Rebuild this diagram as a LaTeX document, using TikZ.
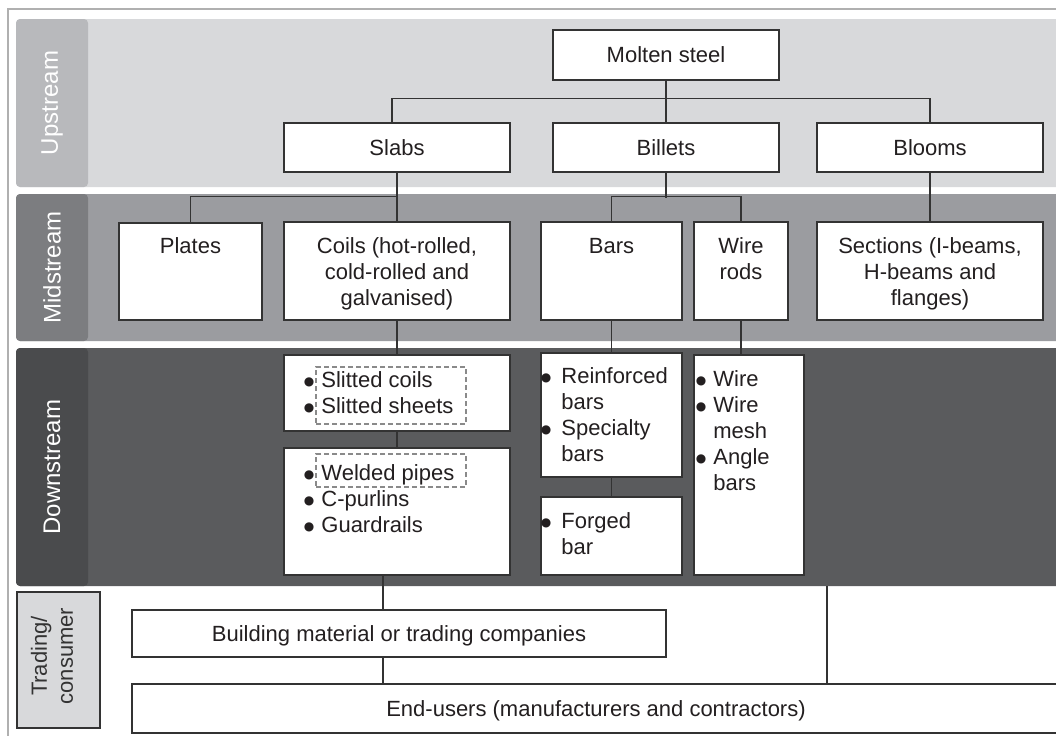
\documentclass[tikz,border=0pt]{standalone}
\usepackage{fontspec}
\setmainfont{Liberation Sans}
\newfontfamily\bulfont{DejaVu Sans}
\usetikzlibrary{fit}
\definecolor{upL}{HTML}{B8B9BC}
\definecolor{upM}{HTML}{D8D9DB}
\definecolor{midL}{HTML}{7C7D80}
\definecolor{midM}{HTML}{9B9CA0}
\definecolor{dnL}{HTML}{4A4B4D}
\definecolor{dnM}{HTML}{5A5B5D}
\definecolor{ln}{HTML}{333333}
\definecolor{frm}{HTML}{B0B0B0}
\definecolor{dsh}{HTML}{8A8A8A}
\definecolor{tx}{HTML}{231F20}
\newcommand{\bul}[1]{\makebox[#1][l]{\hspace{1pt}\raisebox{1.1pt}{\fontsize{6}{6}\bulfont ●}}}
\begin{document}
\begin{tikzpicture}[x=0.5pt,y=-0.5pt,
  box/.style={draw=ln, line width=0.7pt, fill=white, inner sep=0pt},
  ctr/.style={font=\fontsize{11}{13}\selectfont, text height=7.9pt, text depth=0pt, inner sep=0pt, text=tx},
  txt/.style={font=\fontsize{11}{13}\selectfont, inner sep=0pt, anchor=north, align=center, text=tx},
  ltxt/.style={font=\fontsize{11}{13}\selectfont, inner sep=0pt, anchor=north west, align=left, text=tx},
  conn/.style={draw=ln, line width=0.55pt},
  bandtxt/.style={font=\fontsize{12}{14}\selectfont, rotate=90, text=white, inner sep=0pt},
  dashbox/.style={draw=dsh, line width=0.6pt, dash pattern=on 2.5pt off 1.5pt, inner sep=0pt}
]
\useasboundingbox (0,0) rectangle (1056,735);
\begin{scope}
\clip (0,0) rectangle (1056,735);
% outer frame
\draw[frm, line width=0.8pt] (8,9) rectangle (1080,760);
% bands
\fill[upM, rounded corners=2pt] (16,19) rectangle (1080,187);
\fill[upL, rounded corners=2pt] (16,19) rectangle (88,187);
\fill[midM, rounded corners=2pt] (16,194) rectangle (1080,341);
\fill[midL, rounded corners=2pt] (16,194) rectangle (88,341);
\fill[dnM, rounded corners=2pt] (16,348) rectangle (1080,586);
\fill[dnL, rounded corners=2pt] (16,348) rectangle (88,586);
\node[bandtxt] (lup) at (52,103) {Upstream};
\node[bandtxt] (lmid) at (52,267.5) {Midstream};
\node[bandtxt] (ldn) at (52,467) {Downstream};
\node[draw=ln, fill=upM, line width=0.6pt, inner sep=0pt, fit={(17,592)(100,728)}] (ltrade) {};
\node[font=\fontsize{11}{13}\selectfont, rotate=90, align=center, text=ln, inner sep=0pt] (ltradetxt) at (52,656) {Trading/\\consumer};

% upstream boxes
\node[box, fit={(553,30)(779,80)}] (molten) {};
\node[box, fit={(284,123)(510,172)}] (slabs) {};
\node[box, fit={(553,123)(779,172)}] (billets) {};
\node[box, fit={(817,123)(1043,172)}] (blooms) {};
\node[ctr] (tmolten) at (molten.center) {Molten steel};
\node[ctr] (tslabs) at (slabs.center) {Slabs};
\node[ctr] (tbillets) at (billets.center) {Billets};
\node[ctr] (tblooms) at (blooms.center) {Blooms};

% midstream boxes
\node[box, fit={(119,223)(262,320)}] (plates) {};
\node[box, fit={(284,222)(510,320)}] (coils) {};
\node[box, fit={(541,222)(682,320)}] (bars) {};
\node[box, fit={(694,222)(788,320)}] (wirerods) {};
\node[box, fit={(817,222)(1043,320)}] (sections) {};
\node[txt] (tplates) at (190.5,235) {\strut Plates};
\node[txt] (tcoils) at (397,235) {\strut Coils (hot-rolled,\\cold-rolled and\\galvanised)};
\node[txt] (tbars) at (611.5,235) {\strut Bars};
\node[txt] (twirerods) at (741,235) {\strut Wire\\rods};
\node[txt] (tsections) at (930,235) {\strut Sections (I-beams,\\H-beams and\\flanges)};

% downstream boxes
\node[box, fit={(284,355)(510,431)}] (slit) {};
\node[box, fit={(284,448)(510,575)}] (welded) {};
\node[box, fit={(541,353)(682,477)}] (reinf) {};
\node[box, fit={(541,497)(682,575)}] (forged) {};
\node[box, fit={(694,355)(804,575)}] (wire) {};
\node[dashbox, fit={(316,367)(466,424)}] (dash1) {};
\node[dashbox, fit={(316,454)(466,487)}] (dash2) {};
\node[ltxt] (tslit) at (301.5,369) {\strut\bul{9.75pt}Slitted coils\\\bul{9.75pt}Slitted sheets};
\node[ltxt] (twelded) at (301.5,462) {\strut\bul{9.75pt}Welded pipes\\\bul{9.75pt}C-purlins\\\bul{9.75pt}Guardrails};
\node[ltxt] (treinf) at (538.5,365) {\strut\bul{11.25pt}Reinforced\\\hspace*{11.25pt}bars\\\bul{11.25pt}Specialty\\\hspace*{11.25pt}bars};
\node[ltxt] (tforged) at (538.5,510) {\strut\bul{11.25pt}Forged\\\hspace*{11.25pt}bar};
\node[ltxt] (twire) at (693.5,368) {\strut\bul{9.75pt}Wire\\\bul{9.75pt}Wire\\\hspace*{9.75pt}mesh\\\bul{9.75pt}Angle\\\hspace*{9.75pt}bars};

% trading boxes
\node[box, fit={(132,610)(666,657)}] (building) {};
\node[box, fit={(132,684)(1060,733)}] (endusers) {};
\node[ctr] (tbuilding) at (building.center) {Building material or trading companies};
\node[ctr] (tendusers) at (endusers.center) {End-users (manufacturers and contractors)};

% connectors
\draw[conn] (molten.south) -- (billets.north);
\draw[conn] ([xshift=-2.5pt]slabs.north) -- ++(0,-24) -| (blooms.north);
\draw[conn] (slabs.south) -- (coils.north);
\draw[conn] (plates.north) -- ++(0,-26) -| (slabs.south);
\draw[conn] (billets.south) -- ++(0,25);
\draw[conn] (bars.north) -- ++(0,-25) -| (wirerods.north);
\draw[conn] (blooms.south) -- (sections.north);
\draw[conn] (coils.south) -- (slit.north);
\draw[conn] (slit.south) -- (welded.north);
\draw[conn] (bars.south) -- (reinf.north);
\draw[conn] (reinf.south) -- (forged.north);
\draw[conn] (wirerods.south) -- (wirerods.south |- wire.north);
\draw[conn] ([xshift=-7pt]welded.south) coordinate (w1) -- (w1 |- building.north);
\draw[conn] (w1 |- building.south) -- (w1 |- endusers.north);
\coordinate (dnb) at (827,586);
\draw[conn] (dnb) -- (dnb |- endusers.north);
\end{scope}
\end{tikzpicture}
\end{document}
